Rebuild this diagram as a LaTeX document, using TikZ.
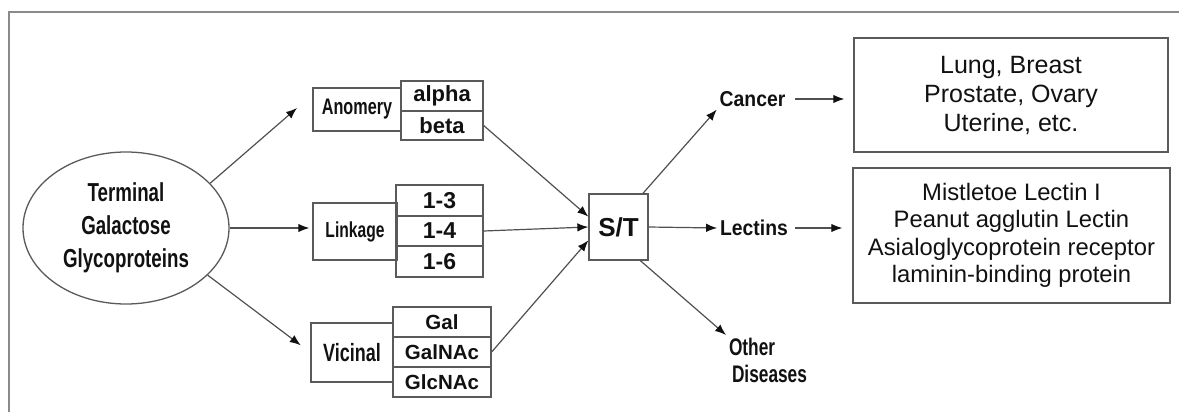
\documentclass[tikz,border=0pt]{standalone}
\usepackage{fontspec}
\setmainfont{Liberation Sans}
\newfontfamily\narrowbf{Liberation Sans}[FakeStretch=0.72]
\newfontfamily\semibf{Liberation Sans}[FakeStretch=0.9]
\usetikzlibrary{shapes.geometric,arrows.meta}
\definecolor{linegray}{HTML}{505050}
\definecolor{boxgray}{HTML}{5A5A5A}
\definecolor{framegray}{HTML}{8A8A8A}
\definecolor{ink}{HTML}{111111}

\begin{document}
\begin{tikzpicture}[x=1pt,y=-1pt,
  every node/.style={text=ink},
  wire/.style={draw=linegray, line width=1.2pt},
  arr/.style={wire, -{Latex[length=11pt,width=8.5pt,color=ink]}},
  cell/.style={draw=boxgray, line width=1.3pt, inner sep=0pt},
  lab/.style={inner sep=0pt, outer sep=3pt}
]
\useasboundingbox (0,0) rectangle (1179,412);

% open frame (top and left edges)
\draw[draw=framegray, line width=1.4pt] (9,412) -- (9,12) -- (1179,12);

% source ellipse
\node[ellipse, draw=boxgray, line width=1.3pt, minimum width=206pt, minimum height=152pt,
      inner sep=0pt, align=center, font=\narrowbf\bfseries\fontsize{26}{33}\selectfont]
  (ell) at (126,228) {Terminal\\Galactose\\Glycoproteins};

% property boxes
\node[cell, minimum width=88pt, minimum height=43pt, font=\narrowbf\bfseries\fontsize{22.5}{26}\selectfont]
  (anom) at (357,109.5) {Anomery};
\node[cell, minimum width=82pt, minimum height=30pt, font=\bfseries\fontsize{22}{26}\selectfont]
  (alpha) at (442,96) {alpha};
\node[cell, minimum width=82pt, minimum height=29pt, font=\bfseries\fontsize{22}{26}\selectfont]
  (beta) at (442,125.5) {beta};

\node[cell, minimum width=84pt, minimum height=57pt, font=\narrowbf\bfseries\fontsize{21.7}{26}\selectfont]
  (link) at (355,231.5) {Linkage};
\node[cell, minimum width=87pt, minimum height=31pt, font=\bfseries\fontsize{23}{26}\selectfont]
  (l13) at (439.5,200.5) {1-3};
\node[cell, minimum width=87pt, minimum height=30pt, font=\bfseries\fontsize{23}{26}\selectfont]
  (l14) at (439.5,231) {1-4};
\node[cell, minimum width=87pt, minimum height=31pt, font=\bfseries\fontsize{23}{26}\selectfont]
  (l16) at (439.5,261.5) {1-6};

\node[cell, minimum width=82pt, minimum height=59pt, font=\narrowbf\bfseries\fontsize{25}{28}\selectfont]
  (vic) at (352,352.5) {Vicinal};
\node[cell, minimum width=98pt, minimum height=30pt, font=\bfseries\fontsize{20.5}{24}\selectfont]
  (gal) at (442,322) {Gal};
\node[cell, minimum width=98pt, minimum height=30pt, font=\bfseries\fontsize{20.5}{24}\selectfont]
  (galnac) at (442,352) {GalNAc};
\node[cell, minimum width=98pt, minimum height=30pt, font=\bfseries\fontsize{20.5}{24}\selectfont]
  (glcnac) at (442,382) {GlcNAc};

% hub
\node[cell, minimum width=59pt, minimum height=66pt, font=\bfseries\fontsize{26}{28}\selectfont]
  (st) at (618.5,227) {S/T};

% outcomes
\node[lab, font=\semibf\bfseries\fontsize{21.5}{26}\selectfont] (cancer) at (752.5,99) {Cancer};
\node[lab, font=\semibf\bfseries\fontsize{21.5}{26}\selectfont] (lectins) at (754,228) {Lectins};
\node[lab, anchor=north west, align=left, font=\narrowbf\bfseries\fontsize{24}{27}\selectfont]
  (other) at (726,335) {Other\\\hspace*{3pt}Diseases};

% detail boxes
\node[cell, minimum width=314pt, minimum height=114pt, align=center,
      font=\fontsize{25}{29}\selectfont]
  (box1) at (1011,95) {Lung, Breast\\Prostate, Ovary\\Uterine, etc.};
\node[cell, minimum width=317pt, minimum height=135pt, align=center,
      font=\fontsize{23.8}{27.5}\selectfont]
  (box2) at (1011.5,235.5) {Mistletoe Lectin I\\Peanut agglutin Lectin\\Asialoglycoprotein receptor\\laminin-binding protein};

% arrow end in front of the anomery box
\coordinate (anomIn) at (297,108);

% connectors
\draw[arr] (ell.28) -- (anomIn);
\draw[arr, shorten >=3pt] (ell.east) -- (link.west |- ell.east);
\draw[arr, shorten >=12pt] (ell.-30) -- (vic.west);

\draw[arr] (beta.east) -- (st.161);
\draw[arr] (l14.east) -- (st.west);
\draw[arr] (galnac.east) -- (st.-156);

\draw[arr] (st.54) -- (cancer.south west);
\draw[arr] (st.east) -- (lectins.west);
\draw[arr] (st.-57) -- (other.north west);

\draw[arr, shorten <=7pt, shorten >=9pt] (cancer.east) -- (cancer.east -| box1.west);
\draw[arr, shorten <=4pt, shorten >=10pt] (lectins.east) -- (lectins.east -| box2.west);
\end{tikzpicture}
\end{document}
